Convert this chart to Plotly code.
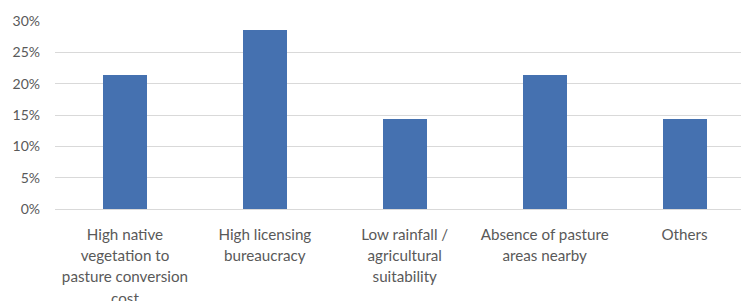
import plotly.graph_objects as go

categories = [
    "High native<br>vegetation to<br>pasture conversion<br>cost",
    "High licensing<br>bureaucracy",
    "Low rainfall /<br>agricultural<br>suitability",
    "Absence of pasture<br>areas nearby",
    "Others",
]
values = [0.214, 0.286, 0.143, 0.214, 0.143]
y_ticks = [0, 0.05, 0.10, 0.15, 0.20, 0.25, 0.30]
y_tick_labels = ["0%", "5%", "10%", "15%", "20%", "25%", "30%"]

FONT = "Lato, 'Open Sans', sans-serif"
GRAY = "#595959"

def styled(label):
    return "<br>".join(f"<span style='font-size:15.2px'>{ln}</span>" for ln in label.split("<br>"))

xpos = list(range(len(categories)))

fig = go.Figure(
    go.Bar(
        x=xpos,
        y=values,
        width=0.315,
        marker=dict(color="#4571b0", line=dict(width=0)),
    )
)

# page body has an 8px margin; figure sized to fit the 749x301 window
fig.update_layout(
    width=741,
    height=293,
    margin=dict(l=47, r=0, t=13, b=92),
    paper_bgcolor="white",
    plot_bgcolor="white",
    showlegend=False,
    bargap=0,
    font=dict(family=FONT, color=GRAY, size=14),
)

fig.update_xaxes(
    tickmode="array",
    tickvals=xpos,
    ticktext=[styled(c) for c in categories],
    tickfont=dict(family=FONT, color=GRAY, size=16.5),
    range=[-0.5, -0.5 + 694 / 139.9],
    showgrid=False,
    zeroline=False,
    showline=False,
    ticks="",
    tickangle=0,
    ticklabelstandoff=13,
    automargin=False,
)

fig.update_yaxes(
    range=[0, 0.30],
    tickmode="array",
    tickvals=y_ticks,
    ticktext=y_tick_labels,
    tickfont=dict(family=FONT, color=GRAY, size=14),
    showgrid=True,
    gridcolor="#d9d9d9",
    gridwidth=1,
    zeroline=True,
    zerolinecolor="#d9d9d9",
    zerolinewidth=1,
    showline=False,
    ticks="",
    ticklabelstandoff=14,
    automargin=False,
)

fig.write_html("out.html")
